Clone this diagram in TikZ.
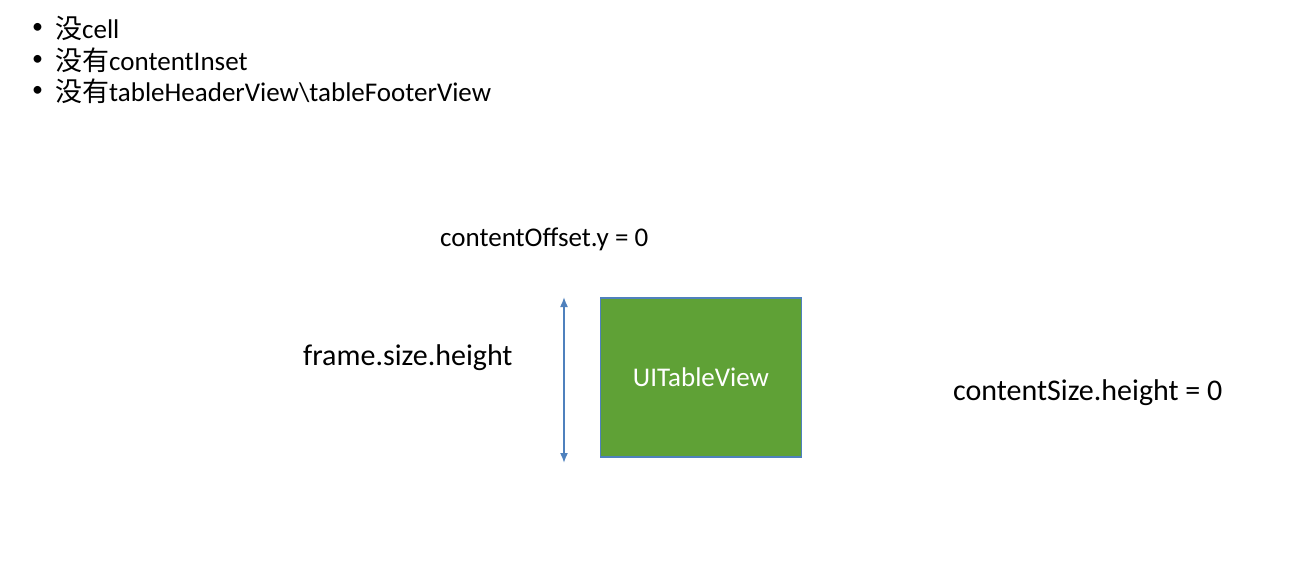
\documentclass[tikz,border=0pt]{standalone}
\usepackage{fontspec}
\setmainfont{Carlito}
\newfontfamily\cjk{Noto Sans CJK SC}
\usetikzlibrary{arrows.meta}
\definecolor{boxgreen}{HTML}{5FA136}
\definecolor{boxblue}{HTML}{4F81BD}
\begin{document}
\begin{tikzpicture}[x=1pt,y=-1pt,
  lbl/.style={inner sep=0pt,anchor=west,font=\fontsize{27}{31}\selectfont},
  biglbl/.style={inner sep=0pt,anchor=west,font=\fontsize{30}{34}\selectfont},
  bul/.style={inner sep=0pt,anchor=west,font=\fontsize{22}{26}\selectfont}]
\useasboundingbox (0,0) rectangle (1296,562);
\node[bul] (b1) at (32,28) {•};
\node[bul] (b2) at (32,60) {•};
\node[bul] (b3) at (32,91) {•};
\node[lbl] (t1) at (55,28) {{\cjk 没}cell};
\node[lbl] (t2) at (55,60) {{\cjk 没有}contentInset};
\node[lbl] (t3) at (55,91) {{\cjk 没有}tableHeaderView\textbackslash tableFooterView};
\node[lbl] (off) at (440,239) {contentOffset.y = 0};
\node[biglbl] (fr) at (303,358) {frame.size.height};
\node[biglbl] (cs) at (953,393) {contentSize.height = 0};
\node[draw=boxblue,line width=1.5pt,fill=boxgreen,minimum width=201pt,minimum height=159pt,inner sep=0pt,
  text=white,font=\fontsize{27}{31}\selectfont] (tv) at (701,377.5) {\raisebox{-3pt}{UITableView}};
\coordinate (atop) at (564,297);
\coordinate (abot) at (564,463);
\draw[boxblue,line width=1.6pt,{Latex[length=10pt,width=8pt]}-{Latex[length=10pt,width=8pt]}] (atop) -- (abot);
\end{tikzpicture}
\end{document}
